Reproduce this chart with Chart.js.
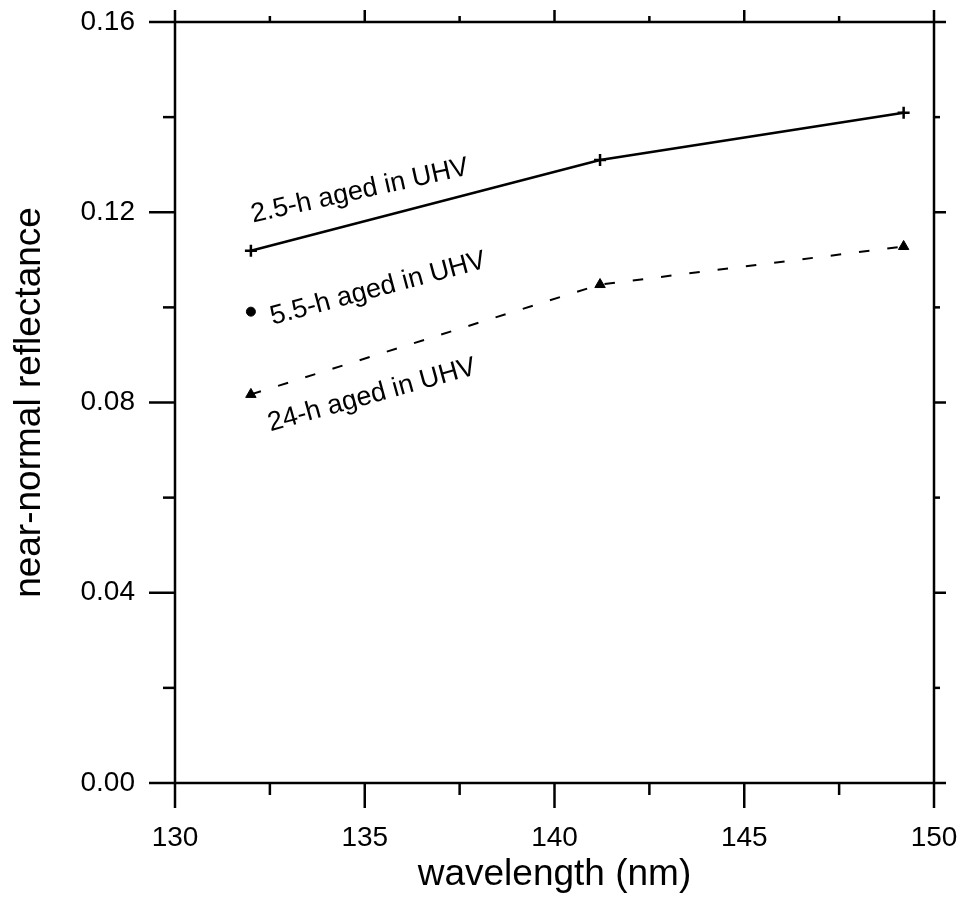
<!DOCTYPE html>
<html>
<head>
<meta charset="utf-8">
<script src="https://cdn.jsdelivr.net/npm/chart.js@4/dist/chart.umd.min.js"></script>
<style>
  body { margin: 0; background: #fff; }
  #wrap { width: 969px; height: 904px; }
</style>
</head>
<body>
<div id="wrap"><canvas id="chart"></canvas></div>
<script>
// values
const wavelengths = [132, 141.2, 149.2];
const aged25h = [0.1119, 0.1310, 0.1409];
const aged55hWave = [132];
const aged55h = [0.0991];
const aged24h = [0.0817, 0.1048, 0.1128];

// axis ticks
const xMajorTicks = [130, 135, 140, 145, 150];
const xMinorTicks = [132.5, 137.5, 142.5, 147.5];
const yMajorTicks = [0, 0.04, 0.08, 0.12, 0.16];
const yMinorTicks = [0.02, 0.06, 0.10, 0.14];

const curveNames = ['2.5-h aged in UHV', '5.5-h aged in UHV', '24-h aged in UHV'];

const FONT = '"Liberation Sans", Arial, sans-serif';

const toPoints = (xs, ys) => xs.map((x, i) => ({x: x, y: ys[i]}));

// where the curve names sit (data units, baseline centre) and their slant
const nameSpots = [
    {x: 134.91, y: 0.1229, angle: -12.5},
    {x: 135.4, y: 0.1024, angle: -15},
    {x: 135.24, y: 0.0800, angle: -15.5}
];

const framePlugin = {
    id: 'frame',
    afterDraw(chart) {
        const ctx = chart.ctx;
        const xs = chart.scales.x;
        const ys = chart.scales.y;
        const a = chart.chartArea;
        ctx.save();
        ctx.strokeStyle = '#000';
        ctx.lineWidth = 2.5;
        ctx.lineCap = 'butt';
        ctx.strokeRect(a.left, a.top, a.right - a.left, a.bottom - a.top);

        const line = (x1, y1, x2, y2) => {
            ctx.beginPath();
            ctx.moveTo(x1, y1);
            ctx.lineTo(x2, y2);
            ctx.stroke();
        };
        xMajorTicks.forEach((v) => {
            const px = xs.getPixelForValue(v);
            line(px, a.bottom, px, a.bottom + 25);
            line(px, a.top, px, a.top - 12);
        });
        xMinorTicks.forEach((v) => {
            const px = xs.getPixelForValue(v);
            line(px, a.bottom, px, a.bottom + 12);
            line(px, a.top, px, a.top - 6);
        });
        yMajorTicks.forEach((v) => {
            const py = ys.getPixelForValue(v);
            line(a.left, py, a.left - 26, py);
            line(a.right, py, a.right + 12, py);
        });
        yMinorTicks.forEach((v) => {
            const py = ys.getPixelForValue(v);
            line(a.left, py, a.left - 12, py);
            line(a.right, py, a.right + 6, py);
        });

        ctx.fillStyle = '#000';
        ctx.font = '27px ' + FONT;
        ctx.textAlign = 'center';
        ctx.textBaseline = 'alphabetic';
        curveNames.forEach((name, i) => {
            const spot = nameSpots[i];
            ctx.save();
            ctx.translate(xs.getPixelForValue(spot.x), ys.getPixelForValue(spot.y));
            ctx.rotate(spot.angle * Math.PI / 180);
            ctx.fillText(name, 0, 0);
            ctx.restore();
        });
        ctx.restore();
    }
};

new Chart(document.getElementById('chart'), {
    type: 'line',
    data: {
        datasets: [
            {
                label: curveNames[0],
                data: toPoints(wavelengths, aged25h),
                borderColor: '#000',
                backgroundColor: '#000',
                borderWidth: 2.5,
                pointStyle: 'cross',
                pointRadius: 6,
                pointBorderWidth: 2.5,
                tension: 0
            },
            {
                label: curveNames[1],
                data: toPoints(aged55hWave, aged55h),
                showLine: false,
                borderColor: '#000',
                backgroundColor: '#000',
                pointStyle: 'circle',
                pointRadius: 4.5,
                pointBorderWidth: 1
            },
            {
                label: curveNames[2],
                data: toPoints(wavelengths, aged24h),
                borderColor: '#000',
                backgroundColor: '#000',
                borderWidth: 2,
                borderDash: [10.5, 18],
                pointStyle: 'triangle',
                pointRadius: 6,
                pointBorderWidth: 1,
                tension: 0
            }
        ]
    },
    options: {
        responsive: true,
        maintainAspectRatio: false,
        animation: false,
        layout: {padding: {top: 22, right: 35, left: 0, bottom: 0}},
        plugins: {
            legend: {display: false},
            tooltip: {enabled: false}
        },
        scales: {
            x: {
                type: 'linear',
                position: 'bottom',
                min: 130,
                max: 150,
                grid: {display: false, drawTicks: false},
                border: {display: false},
                ticks: {
                    stepSize: 5,
                    padding: 38,
                    color: '#000',
                    font: {family: FONT, size: 28},
                    maxRotation: 0,
                    callback: (v) => v.toFixed(0)
                },
                title: {
                    display: true,
                    text: 'wavelength (nm)',
                    color: '#000',
                    font: {family: FONT, size: 37},
                    padding: {top: 0, bottom: 7}
                },
                afterFit: (scale) => {
                    scale.height = 121;
                    scale.paddingLeft = 0;
                    scale.paddingRight = 0;
                }
            },
            y: {
                type: 'linear',
                position: 'left',
                min: 0,
                max: 0.16,
                grid: {display: false, drawTicks: false},
                border: {display: false},
                ticks: {
                    stepSize: 0.04,
                    padding: 40,
                    color: '#000',
                    font: {family: FONT, size: 28},
                    callback: (v) => v.toFixed(2)
                },
                title: {
                    display: true,
                    text: 'near-normal reflectance',
                    color: '#000',
                    font: {family: FONT, size: 37},
                    padding: {top: 8, bottom: 0}
                },
                afterFit: (scale) => {
                    scale.width = 175;
                    scale.paddingTop = 0;
                    scale.paddingBottom = 0;
                }
            }
        }
    },
    plugins: [framePlugin]
});
</script>
</body>
</html>
